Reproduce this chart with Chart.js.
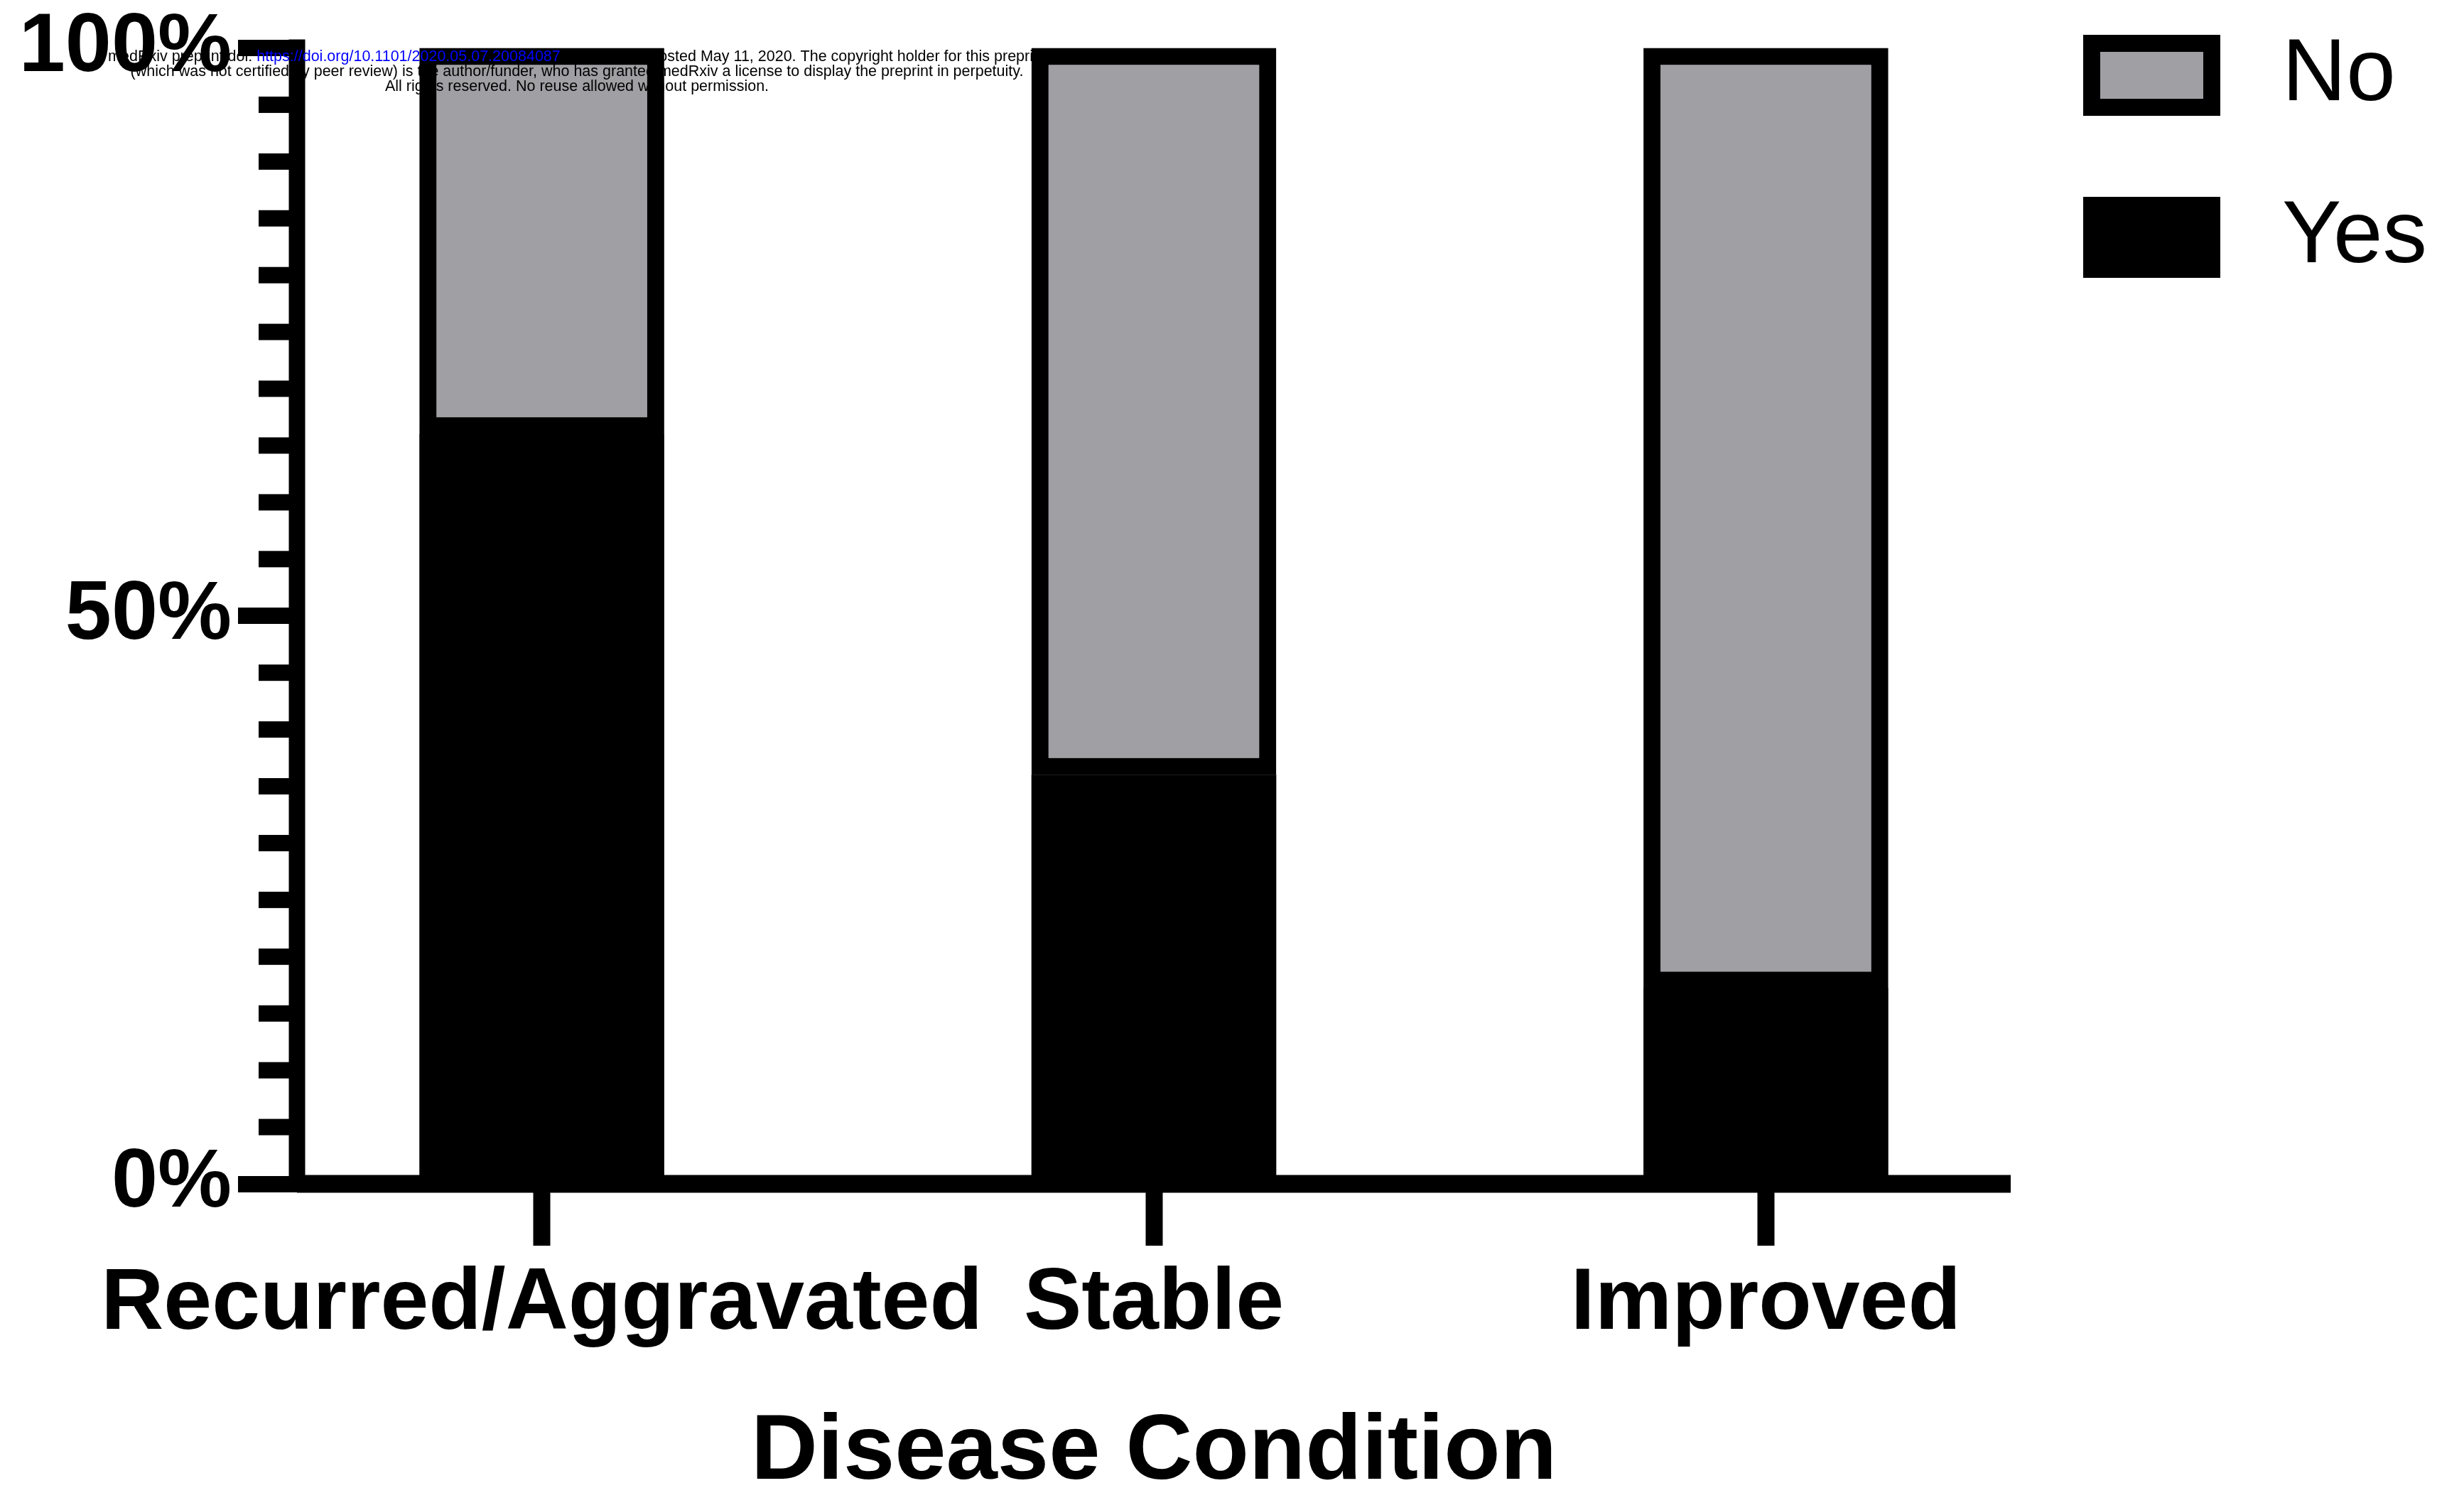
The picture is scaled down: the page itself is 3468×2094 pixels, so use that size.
<!DOCTYPE html>
<html>
<head>
<meta charset="utf-8">
<title>Disease Condition</title>
<script src="https://cdn.jsdelivr.net/npm/chart.js@4.4.1/dist/chart.umd.min.js"></script>
<style>
  html, body { margin: 0; padding: 0; background: #fff; }
  #wrap { width: 3468px; height: 2094px; }
</style>
</head>
<body>
<div id="wrap"><canvas id="conditionChart" width="3468" height="2094"></canvas></div>
<script>
const categories = ['Recurred/Aggravated', 'Stable', 'Improved'];
const yesPercent = [66.0, 36.0, 17.2];
const noPercent = [34.0, 64.0, 82.8];
const yMajorTicks = [0, 50, 100];
const watermarkLines = [
    ['medRxiv preprint doi: ', 'https://doi.org/10.1101/2020.05.07.20084087', '; this version posted May 11, 2020. The copyright holder for this preprint'],
    ['(which was not certified by peer review) is the author/funder, who has granted medRxiv a license to display the preprint in perpetuity.'],
    ['All rights reserved. No reuse allowed without permission.']
];

const FONT = '"Liberation Sans", Arial, Helvetica, sans-serif';
const GREY = '#A09FA4';

// axis lines and minor ticks, drawn over the bar bases
const axisPlugin = {
    id: 'prismAxes',
    afterDatasetsDraw(chart) {
        const { ctx, chartArea: area, scales: { y } } = chart;
        ctx.save();
        ctx.fillStyle = '#000';
        y.ticks.forEach(t => {
            if (yMajorTicks.includes(t.value)) return;
            const py = y.getPixelForValue(t.value);
            ctx.fillRect(area.left - 54, py - 11.5, 54, 23);
        });
        ctx.fillRect(area.left - 11.5, area.top - 12, 23, area.bottom - area.top + 24);
        ctx.fillRect(area.left, area.bottom - 12.5, area.right - area.left, 25);
        ctx.restore();
    }
};

const legendPlugin = {
    id: 'sideLegend',
    afterDraw(chart) {
        const { ctx, chartArea: area } = chart;
        const items = chart.data.datasets.slice().reverse();
        const left = area.right + 102;
        ctx.save();
        items.forEach((ds, i) => {
            const top = 49 + i * 228;
            const bw = ds.borderWidth || 0;
            ctx.fillStyle = '#000';
            ctx.fillRect(left, top, 193, 114);
            ctx.fillStyle = ds.backgroundColor;
            ctx.fillRect(left + bw, top + bw, 193 - 2 * bw, 114 - 2 * bw);
            ctx.fillStyle = '#000';
            ctx.font = '125px ' + FONT;
            ctx.textBaseline = 'middle';
            ctx.textAlign = 'left';
            ctx.fillText(ds.label, left + 280, top + 58);
        });
        ctx.restore();
    }
};

const watermarkPlugin = {
    id: 'watermark',
    afterDraw(chart) {
        const ctx = chart.ctx;
        ctx.save();
        ctx.font = '21.5px ' + FONT;
        ctx.textBaseline = 'alphabetic';
        ctx.textAlign = 'left';
        watermarkLines.forEach((parts, i) => {
            const total = parts.reduce((w, p) => w + ctx.measureText(p).width, 0);
            let x = 812 - total / 2;
            const y = 86 + i * 21;
            parts.forEach((p, j) => {
                ctx.fillStyle = (parts.length > 1 && j === 1) ? '#0000FF' : '#000';
                ctx.fillText(p, x, y);
                x += ctx.measureText(p).width;
            });
        });
        ctx.restore();
    }
};

const ctx = document.getElementById('conditionChart').getContext('2d');

new Chart(ctx, {
    type: 'bar',
    data: {
        datasets: [
            {
                label: 'Yes',
                data: categories.map((c, i) => ({ x: i, y: yesPercent[i] })),
                backgroundColor: '#000',
                borderWidth: 0,
                barThickness: 344
            },
            {
                label: 'No',
                data: categories.map((c, i) => ({ x: i, y: noPercent[i] })),
                backgroundColor: GREY,
                borderColor: '#000',
                borderWidth: 24,
                borderSkipped: false,
                barThickness: 344
            }
        ]
    },
    options: {
        responsive: false,
        animation: false,
        layout: { padding: { top: 1.5, right: 638, left: 0, bottom: 0 } },
        plugins: {
            legend: { display: false },
            tooltip: { enabled: false }
        },
        scales: {
            x: {
                type: 'linear',
                stacked: true,
                offset: false,
                min: -0.4,
                max: 2.4,
                afterBuildTicks: scale => {
                    scale.ticks = categories.map((c, i) => ({ value: i }));
                },
                afterFit: scale => { scale.height = 428; },
                border: { display: false },
                grid: {
                    offset: false,
                    drawOnChartArea: false,
                    tickLength: 87,
                    tickWidth: 24,
                    tickColor: '#000'
                },
                ticks: {
                    callback: v => categories[v],
                    color: '#000',
                    padding: 10,
                    maxRotation: 0,
                    minRotation: 0,
                    autoSkip: false,
                    font: { family: FONT, weight: 'bold', size: 122, lineHeight: 1.2 }
                },
                title: {
                    display: true,
                    text: 'Disease Condition',
                    color: '#000',
                    padding: 0,
                    font: { family: FONT, weight: 'bold', size: 130, lineHeight: 0.75 }
                }
            },
            y: {
                stacked: true,
                min: 0,
                max: 100,
                afterFit: scale => { scale.width = 418; },
                border: { display: false },
                grid: {
                    drawOnChartArea: false,
                    tickLength: 83,
                    tickWidth: 23,
                    tickColor: c => yMajorTicks.includes(c.tick.value) ? '#000' : 'rgba(0,0,0,0)'
                },
                ticks: {
                    stepSize: 5,
                    autoSkip: false,
                    padding: 9,
                    color: '#000',
                    callback: v => yMajorTicks.includes(v) ? v + '%' : '',
                    font: { family: FONT, weight: 'bold', size: 117, lineHeight: 1 }
                }
            }
        }
    },
    plugins: [axisPlugin, legendPlugin, watermarkPlugin]
});
</script>
</body>
</html>
